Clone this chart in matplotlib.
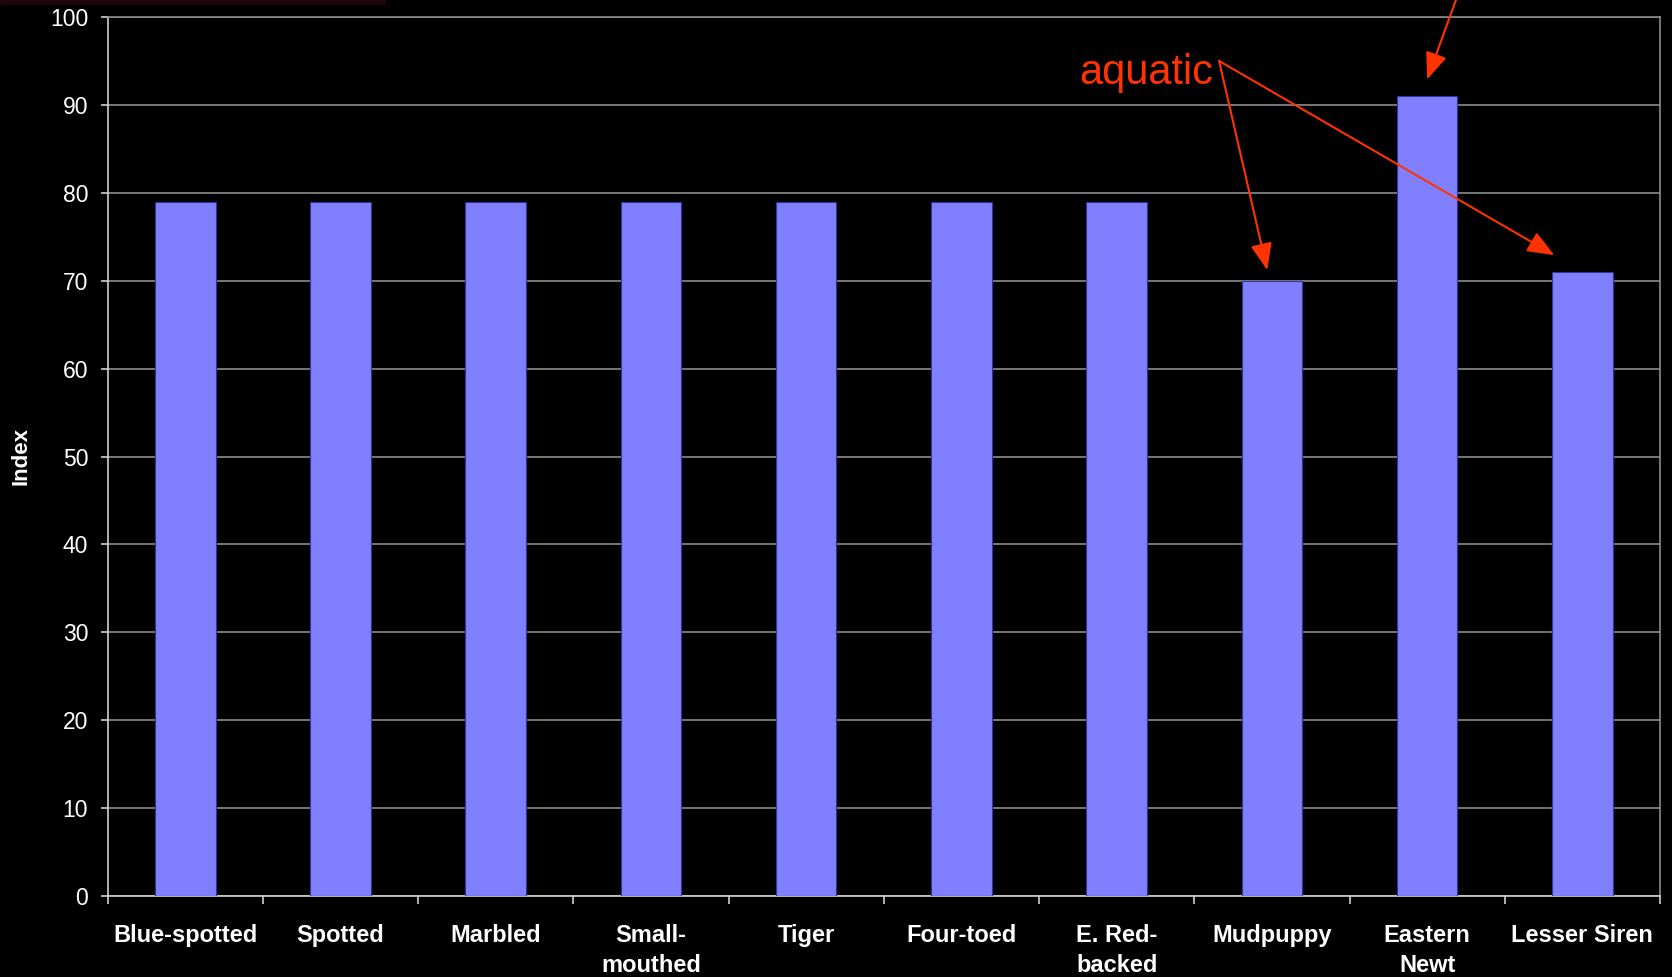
import matplotlib
matplotlib.use("Agg")
import matplotlib.pyplot as plt
from matplotlib.patches import Rectangle
import numpy as np

species = ["Blue-spotted", "Spotted", "Marbled", "Small-\nmouthed", "Tiger",
           "Four-toed", "E. Red-\nbacked", "Mudpuppy", "Eastern\nNewt", "Lesser Siren"]
index_vals = [79, 79, 79, 79, 79, 79, 79, 70, 91, 71]
y_ticks = list(range(0, 101, 10))

plt.rcParams['font.family'] = ['Liberation Sans', 'DejaVu Sans']

fig = plt.figure(figsize=(16.72, 9.77), dpi=100, facecolor='black')
ax = fig.add_axes([0.0644, 0.0829, 0.9284, 0.8997])
ax.set_facecolor('black')

# faint reddish strip left over from the slide background
fig.patches.append(Rectangle((0, 0.996), 0.23, 0.004, transform=fig.transFigure,
                             color='#1c0808', zorder=0))

x = np.arange(len(species))
ax.bar(x, index_vals, width=0.39, color='#8080ff', edgecolor='#333399',
       linewidth=0.8, zorder=3)

ax.set_xlim(-0.5, len(species) - 0.5)
ax.set_ylim(0, 100)
ax.set_yticks(y_ticks)
ax.yaxis.grid(True, color='#8c8c8c', linewidth=1.2, zorder=0)

# ticks sit on the category boundaries, labels on the centres
ax.set_xticks(np.arange(-0.5, len(species)))
ax.set_xticklabels([])
ax.set_xticks(x, minor=True)
ax.set_xticklabels(species, minor=True, fontsize=17, fontweight='bold',
                   color='white', linespacing=1.4)
ax.tick_params(axis='x', which='major', direction='out', length=6,
               color='#d0d0d0', width=1.2)
ax.tick_params(axis='x', which='minor', length=0, pad=20)
ax.tick_params(axis='y', direction='out', length=5, color='#d0d0d0', width=1.2,
               labelsize=16.5, labelcolor='white', pad=9)

for side in ('left', 'bottom'):
    ax.spines[side].set_color('#d0d0d0')
    ax.spines[side].set_linewidth(1.2)
for side in ('top', 'right'):
    ax.spines[side].set_color('#8c8c8c')
    ax.spines[side].set_linewidth(1.2)

fig.text(21 / 1672, 0.533, "Index", rotation=90, ha='center', va='center',
         fontsize=16, fontweight='bold', color='white')

red = '#ff3300'
ax.text(5.758, 92.4, "aquatic", color=red, fontsize=30, ha='left', va='baseline')
arrow = dict(arrowstyle='-|>,head_length=0.55,head_width=0.22', color=red,
             lw=1.5, shrinkA=0, shrinkB=0, mutation_scale=30)
ax.annotate("", xy=(6.97, 71.2), xytext=(6.66, 95.0), arrowprops=arrow)
ax.annotate("", xy=(8.82, 72.9), xytext=(6.66, 95.0), arrowprops=arrow)
ax.annotate("", xy=(8.0, 92.9), xytext=(8.22, 103.6), arrowprops=arrow,
            annotation_clip=False)

fig.savefig("out.png", dpi=100, facecolor='black')
